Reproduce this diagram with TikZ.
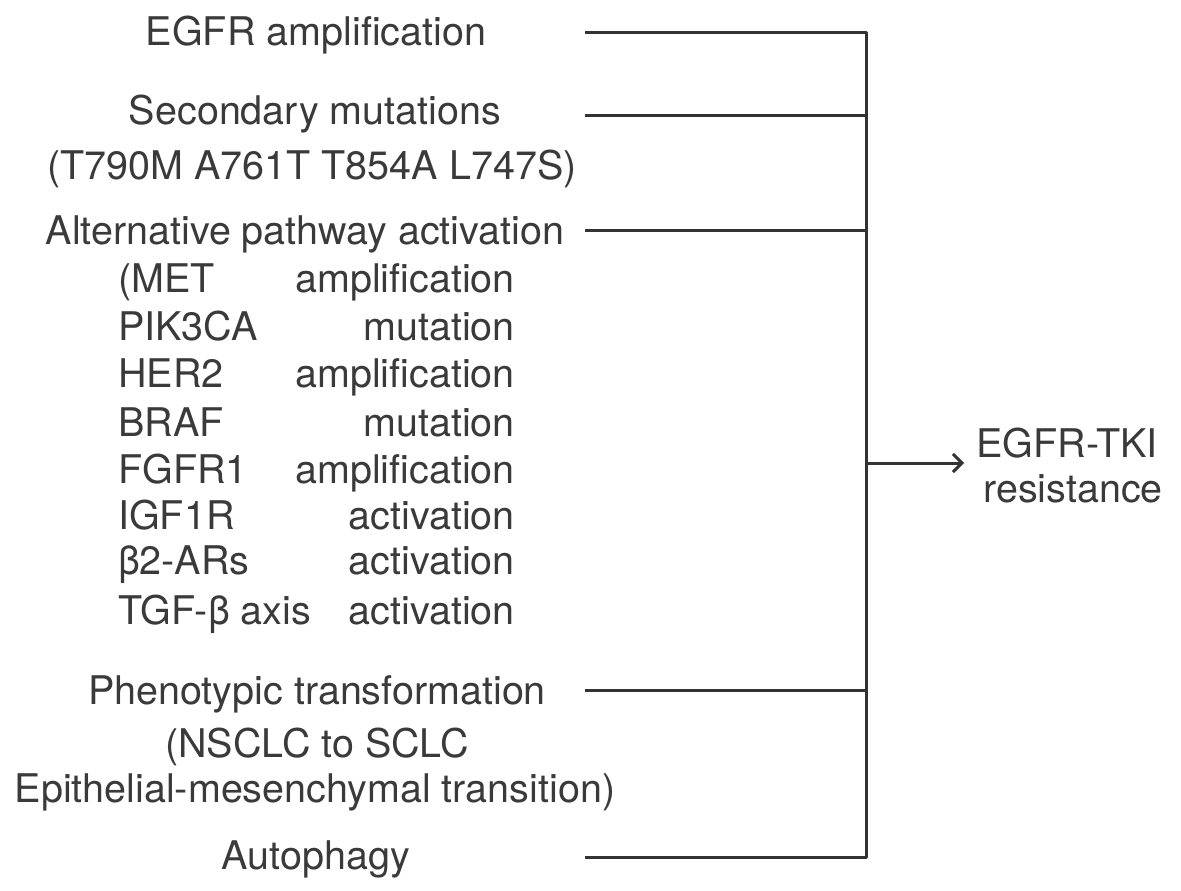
\documentclass[tikz,border=0pt]{standalone}
\usepackage{fontspec}
\setmainfont{TeX Gyre Heros}
\usetikzlibrary{arrows.meta}
\definecolor{ink}{HTML}{3A3A3A}
\definecolor{wire}{HTML}{333333}
\begin{document}
\begin{tikzpicture}[x=1pt,y=-1pt,
  lbl/.style={inner sep=0pt,anchor=base,text=ink,font=\fontsize{39.5}{47}\selectfont},
  lft/.style={lbl,anchor=base west},
  rgt/.style={lbl,anchor=base east},
  wirestyle/.style={draw=wire,line width=3pt,line join=round}]
\useasboundingbox (0,0) rectangle (1181,891);
% main items
\node[lbl] (egfr) at (316,46) {EGFR amplification};
\node[lbl] (sec) at (315,124) {Secondary mutations};
\node[lbl] (secl) at (312,179) {(T790M A761T T854A L747S)};
\node[lbl] (alt) at (305,244) {Alternative pathway activation};
% two-column list
\node[lft] (l1) at (118,292) {(MET};      \node[rgt] (r1) at (515,292) {amplification};
\node[lft] (l2) at (118,340) {PIK3CA};    \node[rgt] (r2) at (515,340) {mutation};
\node[lft] (l3) at (118,387) {HER2};      \node[rgt] (r3) at (515,387) {amplification};
\node[lft] (l4) at (118,436) {BRAF};      \node[rgt] (r4) at (515,436) {mutation};
\node[lft] (l5) at (118,483) {FGFR1};     \node[rgt] (r5) at (515,483) {amplification};
\node[lft] (l6) at (118,529) {IGF1R};     \node[rgt] (r6) at (515,529) {activation};
\node[lft] (l7) at (118,574) {β2-ARs};    \node[rgt] (r7) at (515,574) {activation};
\node[lft] (l8) at (118,624) {TGF-β axis};\node[rgt] (r8) at (515,624) {activation};
% lower items
\node[lbl] (phen) at (317,704) {Phenotypic transformation};
\node[lbl] (phen2) at (317,757) {(NSCLC to SCLC};
\node[lbl] (phen3) at (315,802) {Epithelial-mesenchymal transition)};
\node[lbl] (auto) at (316,869) {Autophagy};
% result
\node[lbl] (res1) at (1067,457) {EGFR-TKI};
\node[lbl] (res2) at (1073,502) {resistance};
% connector coordinates
\coordinate (s1) at (585,33);
\coordinate (s2) at (585,115);
\coordinate (s3) at (585,230);
\coordinate (s4) at (585,690);
\coordinate (s5) at (585,857);
\coordinate (top) at (866,33);
\coordinate (bot) at (866,857);
\coordinate (j2) at (866,115);
\coordinate (j3) at (866,230);
\coordinate (j4) at (866,690);
\coordinate (jm) at (866,463);
\coordinate (tip) at (964,463);
\draw[wirestyle] (s1) -- (top) -- (bot) -- (s5);
\draw[wirestyle] (s2) -- (j2);
\draw[wirestyle] (s3) -- (j3);
\draw[wirestyle] (s4) -- (j4);
\draw[wirestyle,-{Straight Barb[length=9pt,width=18pt,line width=3pt]}] (jm) -- (tip);
\end{tikzpicture}
\end{document}
